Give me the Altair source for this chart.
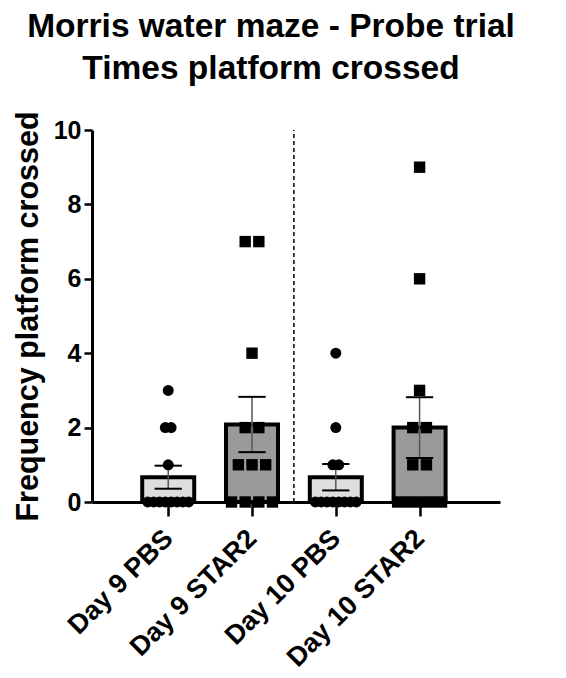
import json
import altair as alt
import pandas as pd
import numpy as np

categories = ["Day 9 PBS", "Day 9 STAR2", "Day 10 PBS", "Day 10 STAR2"]
day9_pbs = [3, 2, 2, 1, 0, 0, 0, 0, 0, 0, 0, 0]
day9_star2 = [7, 7, 4, 2, 2, 1, 1, 1, 0, 0, 0, 0]
day10_pbs = [4, 2, 1, 1, 0, 0, 0, 0, 0, 0, 0, 0]
day10_star2 = [9, 6, 3, 2, 2, 1, 1, 0, 0, 0, 0, 0]
groups = [day9_pbs, day9_star2, day10_pbs, day10_star2]
treatments = ["PBS", "STAR2", "PBS", "STAR2"]

WIDTH = 408
HEIGHT = 372
X_DOMAIN = [-0.85, 3.9]
PX_PER_UNIT = WIDTH / (X_DOMAIN[1] - X_DOMAIN[0])
FONT = "Liberation Sans"

# summary table (mean and SEM)
summ_rows = []
for i, (cat, vals, tr) in enumerate(zip(categories, groups, treatments)):
    a = np.array(vals, dtype=float)
    m = a.mean()
    sem = a.std(ddof=1) / np.sqrt(len(a))
    summ_rows.append({"idx": i, "cat": cat, "treat": tr, "mean": m,
                      "lo": m - sem, "hi": m + sem,
                      "capL": i - 14 / PX_PER_UNIT, "capR": i + 14 / PX_PER_UNIT})
summ = pd.DataFrame(summ_rows)

# individual points, spread horizontally when values coincide
pt_rows = []
for i, (cat, vals, tr) in enumerate(zip(categories, groups, treatments)):
    uniq = sorted(set(vals))
    for v in uniq:
        k = vals.count(v)
        if tr == "PBS":
            step = 6.0
        else:
            step = min(14.0, 45.0 / (k - 1)) if k > 1 else 0.0
        for j in range(k):
            off = (j - (k - 1) / 2) * step
            pt_rows.append({"x": i + off / PX_PER_UNIT, "value": v, "treat": tr})
pts = pd.DataFrame(pt_rows)

label_expr = json.dumps(categories) + "[datum.value]"

xscale = alt.Scale(domain=X_DOMAIN, nice=False, zero=False)
yscale = alt.Scale(domain=[0, 10], nice=False)

xaxis = alt.Axis(values=[0, 1, 2, 3], labelExpr=label_expr, title=None, grid=False,
                 labelAngle=-45, labelAlign="right", labelBaseline="middle",
                 labelOverlap=False, labelLimit=0,
                 labelFontSize=27, labelFont=FONT, labelFontWeight="bold",
                 labelColor="black", tickSize=14, tickWidth=2.5, tickColor="black",
                 domainWidth=3, domainColor="black", labelPadding=18)
yaxis = alt.Axis(values=[0, 2, 4, 6, 8, 10], title="Frequency platform crossed",
                 grid=False, labelFontSize=25, labelFont=FONT, labelFontWeight="bold",
                 labelColor="black", tickSize=8, tickWidth=2.5, tickColor="black",
                 domainWidth=3, domainColor="black", labelPadding=3,
                 titleFontSize=30.5, titleFont=FONT, titleFontWeight="bold",
                 titleColor="black", titlePadding=10)

bars = alt.Chart(summ).mark_bar(size=52, stroke="black", strokeWidth=4).encode(
    x=alt.X("idx:Q", scale=xscale, axis=xaxis),
    y=alt.Y("mean:Q", scale=yscale, axis=yaxis),
    fill=alt.Fill("treat:N", scale=alt.Scale(domain=["PBS", "STAR2"],
                                             range=["#dedede", "#9a9a9a"]), legend=None),
)

err = alt.Chart(summ).mark_rule(color="#555555", strokeWidth=1.5).encode(
    x="idx:Q", y="lo:Q", y2="hi:Q")
cap_hi = alt.Chart(summ).mark_rule(color="black", strokeWidth=2).encode(
    x="capL:Q", x2="capR:Q", y="hi:Q")
cap_lo = alt.Chart(summ).mark_rule(color="black", strokeWidth=2).encode(
    x="capL:Q", x2="capR:Q", y="lo:Q")

divider = alt.Chart(pd.DataFrame({"x": [1.5], "y0": [0], "y1": [10]})).mark_rule(
    color="black", strokeWidth=1.5, strokeDash=[4, 3]).encode(
    x="x:Q", y="y0:Q", y2="y1:Q")

points = alt.Chart(pts).mark_point(filled=True, opacity=1, color="black").encode(
    x="x:Q", y="value:Q",
    shape=alt.Shape("treat:N", scale=alt.Scale(domain=["PBS", "STAR2"],
                                               range=["circle", "square"]), legend=None),
    size=alt.Size("treat:N", scale=alt.Scale(domain=["PBS", "STAR2"], range=[120, 130]),
                  legend=None),
)

chart = alt.layer(divider, bars, err, cap_hi, cap_lo, points).properties(
    width=WIDTH, height=HEIGHT, background="white",
    title=alt.TitleParams(["Morris water maze - Probe trial", "Times platform crossed"],
                          fontSize=33.5, font=FONT, fontWeight="bold", color="black",
                          anchor="middle", lineHeight=42, offset=24, dx=-25),
    padding={"left": 5, "top": 2, "right": 5, "bottom": 0},
).configure_view(strokeWidth=0, stroke=None)

chart.save("out.html", embed_options={"renderer": "svg", "actions": False})
